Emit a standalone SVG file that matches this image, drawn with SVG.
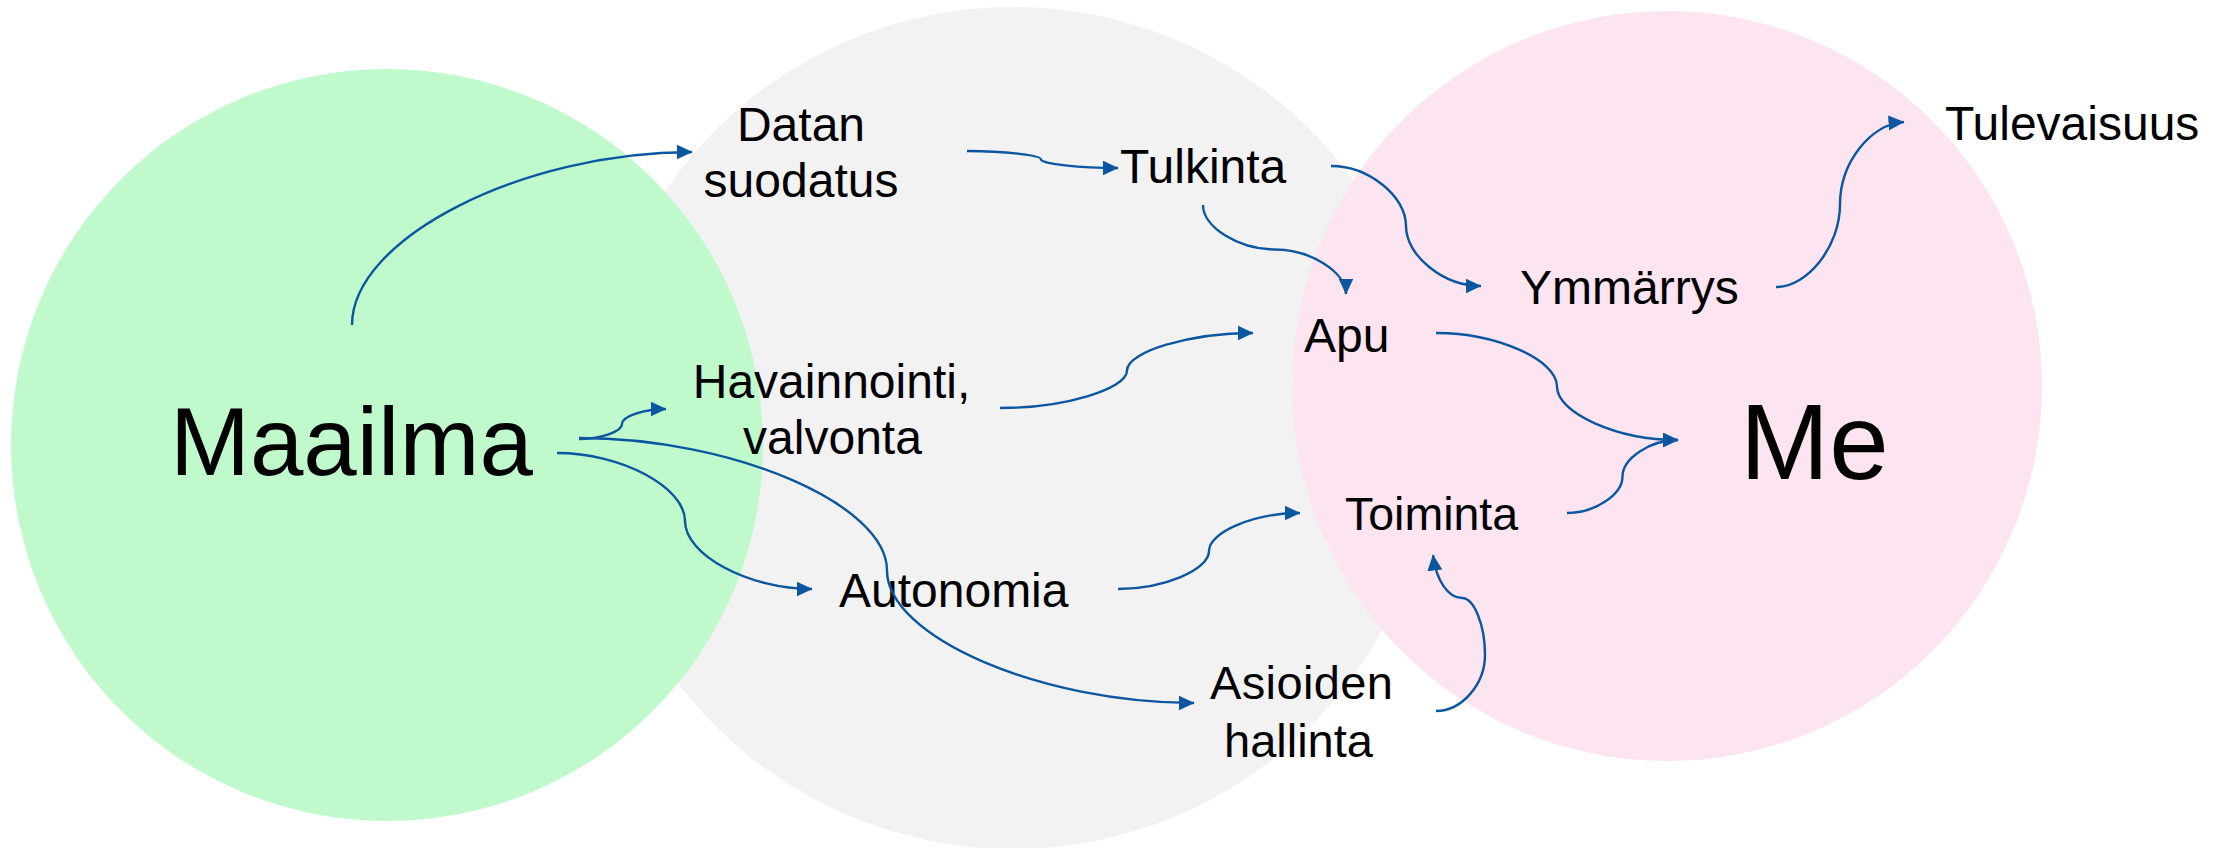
<svg xmlns="http://www.w3.org/2000/svg" width="2215" height="848" viewBox="0 0 2215 848">
<style>
.lbl{font-family:"Liberation Sans",Arial,sans-serif;font-size:48px;fill:#000}
.big{font-family:"Liberation Sans",Arial,sans-serif;fill:#000}
.con{fill:none;stroke:#0A56A0;stroke-width:2.4;marker-end:url(#ah)}
</style>
<defs>
<marker id="ah" markerUnits="userSpaceOnUse" viewBox="0 0 16 15" markerWidth="16" markerHeight="15" refX="15.5" refY="7.5" orient="auto">
<path d="M0,0 L16,7.5 L0,15 Z" fill="#0A56A0"/>
</marker>
</defs>
<rect x="0" y="0" width="2215" height="848" fill="#FFFFFF"/>
<g id="middle"><circle cx="1013" cy="428" r="421" fill="#F2F2F2"/></g>
<g id="maailma"><circle cx="387" cy="445" r="376" fill="#BFF9CC"/><text class="big" x="170" y="475" font-size="96">Maailma</text></g>
<g id="me"><circle cx="1667" cy="386" r="375" fill="#FCE4F1"/><text class="big" x="1740" y="479" font-size="107">Me</text></g>
<g id="datan"><text class="lbl" x="801" y="141" text-anchor="middle">Datan</text><text class="lbl" x="801" y="197" text-anchor="middle">suodatus</text></g>
<g id="tulkinta"><text class="lbl" x="1120" y="183">Tulkinta</text></g>
<g id="ymmarrys"><text class="lbl" x="1520" y="304">Ymmärrys</text></g>
<g id="tulevaisuus"><text class="lbl" x="1945" y="140">Tulevaisuus</text></g>
<g id="apu"><text class="lbl" x="1304" y="352">Apu</text></g>
<g id="havainnointi"><text class="lbl" x="831.5" y="398" text-anchor="middle">Havainnointi,</text><text class="lbl" x="832.5" y="454" text-anchor="middle">valvonta</text></g>
<g id="autonomia"><text class="lbl" x="839" y="607">Autonomia</text></g>
<g id="toiminta"><text class="lbl" x="1345" y="530" style="font-size:46.5px">Toiminta</text></g>
<g id="asioiden"><text class="lbl" x="1210" y="699" style="font-size:47px" textLength="183" lengthAdjust="spacing">Asioiden</text><text class="lbl" x="1224" y="757" style="font-size:47px">hallinta</text></g>
<g id="connectors">
<path class="con" d="M352,325 C352,238.5 522,152 692,152"/>
<path class="con" d="M967,151 C1004,151 1041,155.25 1041,159.5 C1041,163.75 1079.5,168 1118,168"/>
<path class="con" d="M1331,166 C1368.5,166 1406,196 1406,226 C1406,256 1443.5,286 1481,286"/>
<path class="con" d="M1203,205 C1203,227.25 1238.75,249.5 1274.5,249.5 C1310.25,249.5 1346,271.75 1346,294"/>
<path class="con" d="M1776,287 C1808,287 1840,245.75 1840,204.5 C1840,163.25 1870,124 1904,122"/>
<path class="con" d="M579,439 C600.5,439 622,431.5 622,424 C622,416.5 644,409 666,409"/>
<path class="con" d="M579,438 C733,438 887,504.25 887,570.5 C887,636.75 1040.5,703 1194,703"/>
<path class="con" d="M557,453 C621,453 685,487 685,521 C685,555 748.5,589 812,589"/>
<path class="con" d="M1000,408 C1063.5,408 1127,389.25 1127,370.5 C1127,351.75 1190,333 1253,333"/>
<path class="con" d="M1118,589 C1163.5,589 1209,570 1209,551 C1209,532 1254.5,513 1300,513"/>
<path class="con" d="M1436,333 C1496.5,333 1557,359.75 1557,386.5 C1557,413.25 1617.5,440 1678,440"/>
<path class="con" d="M1567,513 C1594.75,513 1622.5,494.75 1622.5,476.5 C1622.5,458.25 1650.25,440 1678,440"/>
<path class="con" d="M1436,711 C1462,711 1485,684 1485,655 C1485,625 1474,598 1462,598 C1448,598 1436,580 1433,555"/>
</g>
</svg>
